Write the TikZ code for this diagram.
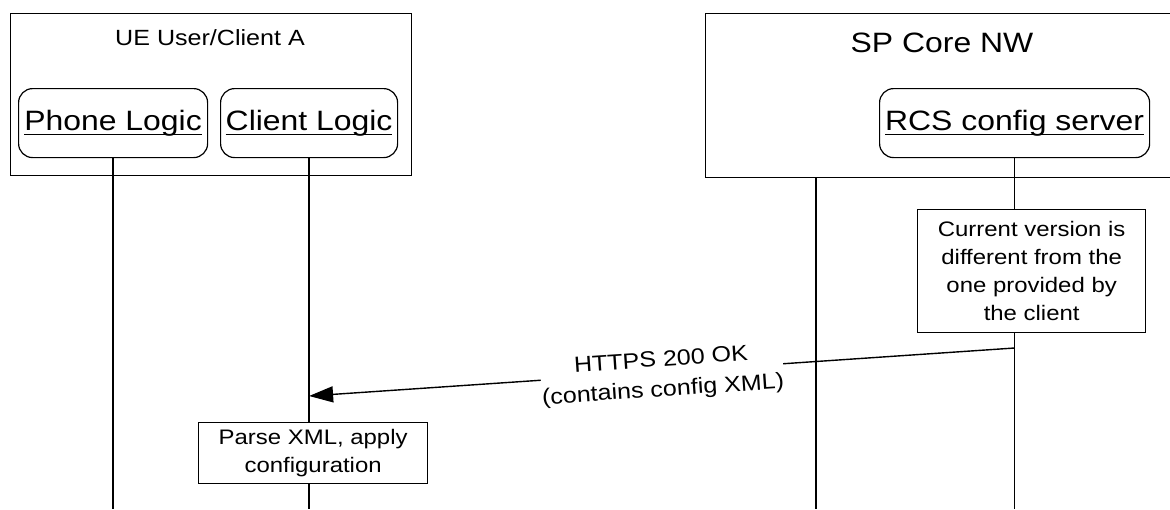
\documentclass[tikz,border=0pt]{standalone}
\usepackage{fontspec}
\setmainfont{Liberation Sans}[FakeStretch=1.14]
\usetikzlibrary{arrows.meta}
\newcommand{\ulx}[1]{\setbox0=\hbox{#1}\rlap{\rule[-4.5pt]{\wd0}{1.2pt}}\box0}
\begin{document}
\begin{tikzpicture}[x=1pt,y=-1pt,
  grp/.style={draw, line width=1.3pt, anchor=north west, inner sep=0pt},
  grptitle/.style={inner sep=0pt, anchor=base},
  actor/.style={draw, line width=1.2pt, rounded corners=14pt, anchor=north west, inner sep=0pt, minimum height=69pt, font=\fontsize{28}{32}\selectfont},
  notebox/.style={draw, line width=1.3pt, anchor=north west, inner sep=0pt, align=center, font=\fontsize{21}{28}\selectfont},
  life/.style={line width=1.3pt},
  msg/.style={line width=1.4pt, -{Triangle[length=24pt,width=16pt]}},
  msglbl/.style={sloped, fill=white, inner sep=0pt, align=center, font=\fontsize{22}{30}\selectfont}]
\useasboundingbox (0,0) rectangle (1170,509);
\clip (0,0) rectangle (1170,509);
\fill[white] (0,0) rectangle (1170,509);
\coordinate (bot) at (0,509);
% groups
\node[grp, minimum width=401pt, minimum height=162pt] (ue) at (10,13) {};
\node[grptitle, font=\fontsize{22}{26}\selectfont] (uet) at (210,45) {UE User/Client A};
\node[grp, minimum width=480pt, minimum height=164pt] (core) at (705,13) {};
\node[grptitle, font=\fontsize{28}{32}\selectfont] (coret) at (942,52) {SP Core NW};
% actors
\node[actor, minimum width=189pt] (phone) at (18,88) {\ulx{Phone Logic}};
\node[actor, minimum width=177pt] (client) at (220,88) {\ulx{Client Logic}};
\node[actor, minimum width=270pt] (rcs) at (879,88) {\ulx{RCS config server}};
% notes
\node[notebox, minimum width=228pt, minimum height=123pt] (note) at (917,209)
  {Current version is\\different from the\\one provided by\\the client};
\node[notebox, minimum width=229pt, minimum height=61pt] (parse) at (198,422)
  {Parse XML, apply\\configuration};
% lifelines
\coordinate (hid) at (816,177);
\draw[life] (phone.south) -- (phone.south |- bot);
\draw[life] (client.south) -- (client.south |- parse.north);
\draw[life] (client.south |- parse.south) -- (client.south |- bot);
\draw[life] (hid) -- (hid |- bot);
\draw[life] (rcs.south) -- (rcs.south |- note.north);
\draw[life] (rcs.south |- note.south) -- (rcs.south |- bot);
% message
\coordinate (m1s) at (1014,348);
\coordinate (m1e) at (309,396);
\draw[msg] (rcs.south |- m1s) -- node[msglbl, yshift=-4pt] (m1l) {HTTPS 200 OK\\(contains config XML)} (client.south |- m1e);
\end{tikzpicture}
\end{document}
